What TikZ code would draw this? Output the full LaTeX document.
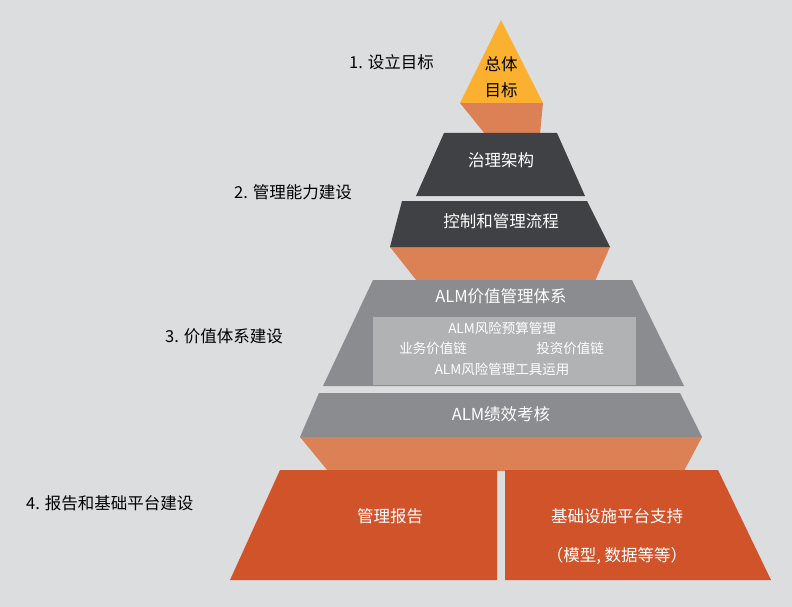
\documentclass[tikz,border=0pt]{standalone}
\usepackage{fontspec}
\setmainfont{Noto Sans CJK SC}
\begin{document}
\begin{tikzpicture}[x=1pt,y=-1pt,
  lbl/.style={font=\fontsize{16.5}{18}\selectfont,text=black,inner sep=0pt},
  wt/.style={font=\fontsize{16.5}{18}\selectfont,text=white,inner sep=0pt},
  st/.style={font=\fontsize{13.5}{15}\selectfont,text=white,inner sep=0pt}]
\definecolor{bg}{HTML}{DCDDDF}
\definecolor{yel}{HTML}{FBB030}
\definecolor{band}{HTML}{DB8155}
\definecolor{dark}{HTML}{404144}
\definecolor{gry}{HTML}{8B8C8F}
\definecolor{lgry}{HTML}{B1B2B4}
\definecolor{red}{HTML}{D0532A}
\fill[bg] (0,0) rectangle (792,607);
\useasboundingbox (0,0) rectangle (792,607);
% bands
\fill[band] (460,103) -- (543,103) -- (540,134) -- (485,134) -- cycle;
\fill[band] (390,247) -- (610,247) -- (595,281) -- (417,281) -- cycle;
\fill[band] (300,437) -- (702,437) -- (684,471) -- (328,471) -- cycle;
% layers
\fill[yel] (501,20) -- (543,103) -- (460,103) -- cycle;
\fill[dark] (444,133) -- (557,133) -- (585,196) -- (416,196) -- cycle;
\fill[dark] (402,201) -- (587,201) -- (610,247) -- (390,247) -- cycle;
\fill[gry] (373,280) -- (632,280) -- (684,386) -- (323,386) -- cycle;
\fill[lgry] (373,317) rectangle (636,385);
\fill[gry] (319,393) -- (680,393) -- (702,437) -- (300,437) -- cycle;
\fill[red] (280,470) -- (497,470) -- (497,580) -- (230,580) -- cycle;
\fill[red] (505,470) -- (718,470) -- (771,580) -- (505,580) -- cycle;
% texts
\node[lbl] (t1) at (501,64) {总体};
\node[lbl] (t2) at (501,90) {目标};
\node[wt] (g1) at (501,160) {治理架构};
\node[wt] (g2) at (501,221) {控制和管理流程};
\node[wt] (v1) at (501,296) {ALM价值管理体系};
\node[st] (v2) at (502,328) {ALM风险预算管理};
\node[st] (v3) at (433,348) {业务价值链};
\node[st] (v4) at (570,348) {投资价值链};
\node[st] (v5) at (502,369) {ALM风险管理工具运用};
\node[wt] (p1) at (501,414) {ALM绩效考核};
\node[wt] (b1) at (390,516) {管理报告};
\node[wt] (b2) at (617,516) {基础设施平台支持};
\node[wt] (b3) at (617,556) {（模型, 数据等等）};
\node[lbl,anchor=west] (l1) at (349,62) {1. 设立目标};
\node[lbl,anchor=west] (l2) at (234,192) {2. 管理能力建设};
\node[lbl,anchor=west] (l3) at (165,336) {3. 价值体系建设};
\node[lbl,anchor=west] (l4) at (26,503) {4. 报告和基础平台建设};
\end{tikzpicture}
\end{document}
